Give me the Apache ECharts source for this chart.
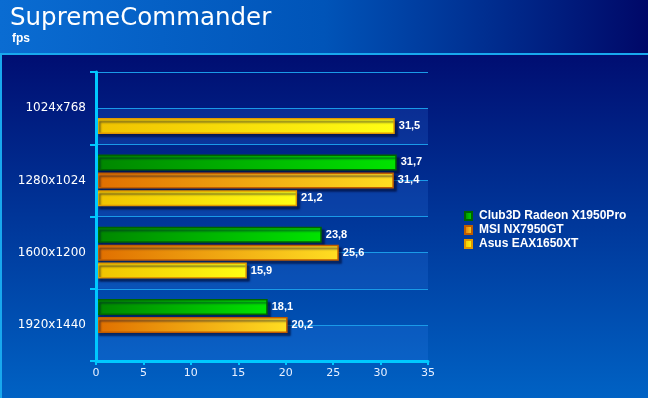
<!DOCTYPE html>
<html>
<head>
<meta charset="utf-8">
<script src="https://cdn.jsdelivr.net/npm/echarts@6/dist/echarts.min.js"></script>
<style>
  html, body { margin: 0; padding: 0; }
  #chart { width: 648px; height: 398px; }
</style>
</head>
<body>
<div id="chart"></div>
<script>
// data
var resolutions = ['1024x768', '1280x1024', '1600x1200', '1920x1440']
var seriesNames = ['Club3D Radeon X1950Pro', 'MSI NX7950GT', 'Asus EAX1650XT']
var club3d = [null, 31.7, 23.8, 18.1]
var msi = [null, 31.4, 25.6, 20.2]
var asus = [31.5, 21.2, 15.9, null]
var xTicks = [0, 35, 5]   // min, max, interval

// half-category slots for the striped background
var halfSlots = ['', '', '', '', '', '', '', '']

function grad(c1, c2) {
    return new echarts.graphic.LinearGradient(0, 0, 1, 0, [
        { offset: 0, color: c1 },
        { offset: 1, color: c2 }
    ])
}

function barSeries(name, data, c1, c2, border) {
    return {
        name: name,
        type: 'bar',
        yAxisIndex: 0,
        data: data,
        barWidth: 16,
        barGap: '12%',
        itemStyle: {
            color: grad(c1, c2),
            borderColor: border,
            borderWidth: 1.5,
            shadowColor: 'rgba(0, 10, 50, 0.6)',
            shadowOffsetX: 3,
            shadowOffsetY: 3,
            shadowBlur: 2
        },
        label: {
            show: true,
            position: 'right',
            distance: 4,
            color: '#ffffff',
            fontFamily: 'Liberation Sans',
            fontWeight: 'bold',
            fontSize: 11,
            formatter: function (p) {
                return p.value == null ? '' : String(p.value).replace('.', ',')
            }
        }
    }
}

var myChart = echarts.init(document.getElementById('chart'))

var option = {
    animation: false,
    backgroundColor: new echarts.graphic.LinearGradient(0, 0, 0, 1, [
        { offset: 0, color: '#000a6c' },
        { offset: 0.14, color: '#000e72' },
        { offset: 1, color: '#0062c4' }
    ]),
    graphic: [
        {   // header band
            type: 'rect',
            shape: { x: 0, y: 0, width: 648, height: 54 },
            style: {
                fill: new echarts.graphic.LinearGradient(0, 0, 1, 0, [
                    { offset: 0, color: '#0a6cd2' },
                    { offset: 0.5, color: '#0054b8' },
                    { offset: 1, color: '#000868' }
                ])
            },
            z: -1
        },
        {   // frame line
            type: 'rect',
            shape: { x: 1, y: 54, width: 660, height: 360 },
            style: { fill: 'none', stroke: '#18a8ee', lineWidth: 2 },
            z: 10
        },
        {
            type: 'text',
            left: 10,
            top: 6,
            style: {
                text: 'SupremeCommander',
                fill: '#ffffff',
                font: '24.5px "DejaVu Sans"'
            }
        },
        {
            type: 'text',
            left: 12,
            top: 33,
            style: {
                text: 'fps',
                fill: '#ffffff',
                font: 'bold 12px "Liberation Sans"'
            }
        }
    ],
    legend: {
        orient: 'vertical',
        left: 459,
        top: 205,
        itemWidth: 7,
        itemHeight: 8,
        itemGap: 2,
        icon: 'rect',
        data: seriesNames,
        textStyle: {
            color: '#ffffff',
            fontFamily: 'Liberation Sans',
            fontWeight: 'bold',
            fontSize: 12,
            padding: [0, 0, 0, 2]
        }
    },
    grid: {
        left: 96,
        right: 220,
        top: 72,
        bottom: 37
    },
    xAxis: {
        type: 'value',
        min: xTicks[0],
        max: xTicks[1],
        interval: xTicks[2],
        axisLine: { show: true, lineStyle: { color: '#00c8ff', width: 3 } },
        axisTick: { show: true, length: 4, lineStyle: { color: '#00c8ff', width: 2 } },
        axisLabel: {
            color: '#e8f0ff',
            fontFamily: 'DejaVu Sans',
            fontSize: 11,
            margin: 7
        },
        splitLine: { show: false }
    },
    yAxis: [
        {
            type: 'category',
            inverse: true,
            data: resolutions,
            axisLine: { show: true, lineStyle: { color: '#00c8ff', width: 3 } },
            axisTick: { show: true, length: 6, lineStyle: { color: '#00c8ff', width: 2 } },
            axisLabel: {
                color: '#ffffff',
                fontFamily: 'DejaVu Sans',
                fontSize: 12,
                margin: 10
            },
            splitLine: { show: false },
            z: 5
        },
        {
            type: 'category',
            inverse: true,
            position: 'right',
            data: halfSlots,
            axisLine: { show: false },
            axisTick: { show: false },
            axisLabel: { show: false },
            splitLine: { show: true, lineStyle: { color: '#1a9ae8', width: 1 } },
            splitArea: {
                show: true,
                areaStyle: { color: ['rgba(0,0,0,0)', 'rgba(60,140,255,0.16)'] }
            }
        }
    ],
    series: [
        barSeries(seriesNames[0], club3d, '#008600', '#00e400', '#006400'),
        barSeries(seriesNames[1], msi, '#e06e00', '#ffde22', '#c05c00'),
        barSeries(seriesNames[2], asus, '#f0c200', '#ffff14', '#e09800')
    ]
}

myChart.setOption(option)
</script>
</body>
</html>
